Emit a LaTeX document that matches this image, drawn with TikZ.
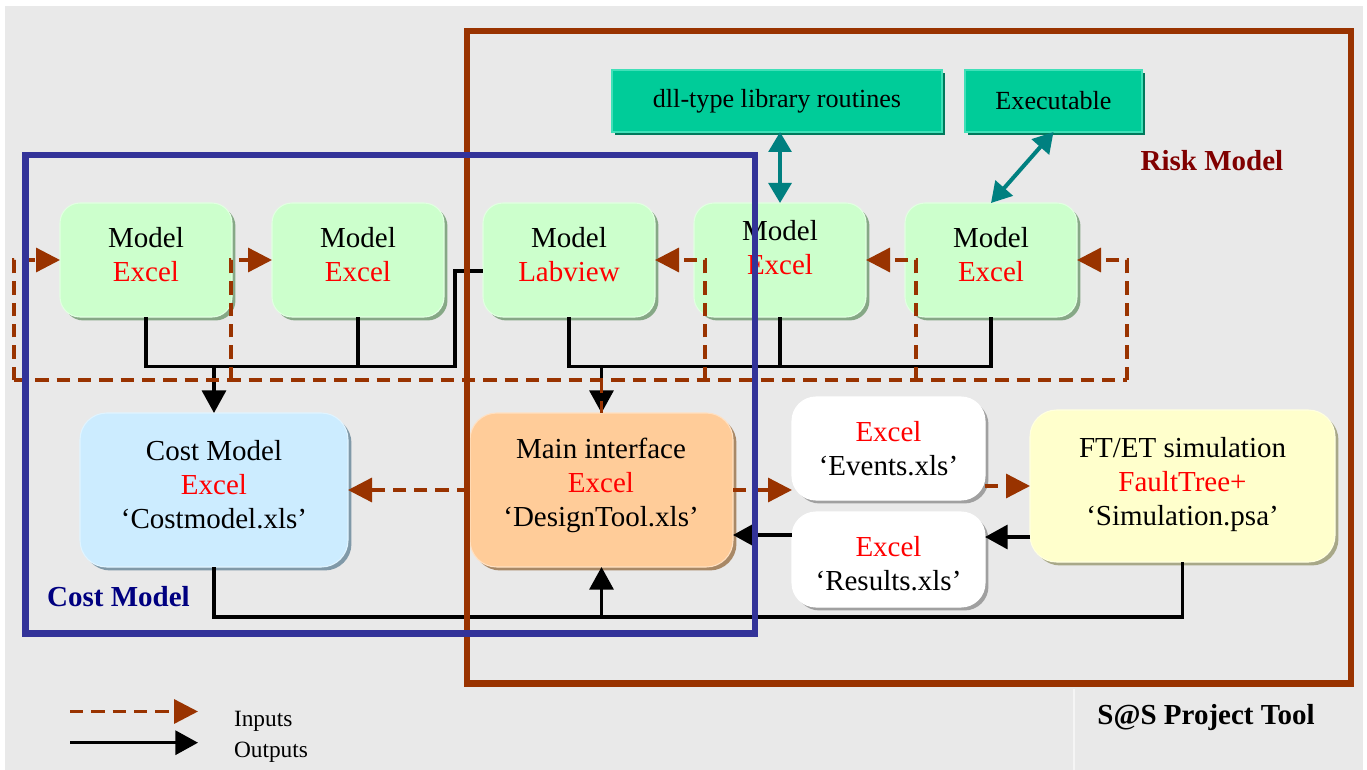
\documentclass[tikz,border=0pt]{standalone}
\usepackage{fontspec}
\setmainfont{Liberation Serif}
\usetikzlibrary{arrows.meta}
\definecolor{bgc}{HTML}{E9E9E9}
\definecolor{brn}{HTML}{993300}
\definecolor{navyframe}{HTML}{333399}
\definecolor{risklab}{HTML}{800000}
\definecolor{costlab}{HTML}{000080}
\definecolor{mgreen}{HTML}{CCFFCC}
\definecolor{mgreenedge}{HTML}{E2FFE2}
\definecolor{mgreensh}{HTML}{86A886}
\definecolor{tealbox}{HTML}{00CC99}
\definecolor{tealedge}{HTML}{40E0B8}
\definecolor{tealsh}{HTML}{007A5C}
\definecolor{tealarrow}{HTML}{008080}
\definecolor{cblue}{HTML}{CCECFF}
\definecolor{cbluesh}{HTML}{8099A8}
\definecolor{morange}{HTML}{FFCC99}
\definecolor{morangesh}{HTML}{A88866}
\definecolor{fyellow}{HTML}{FFFFCC}
\definecolor{fyellowsh}{HTML}{A8A888}
\definecolor{wboxsh}{HTML}{A0A0A0}
\begin{document}
\begin{tikzpicture}[x=0.75pt,y=-0.75pt,
  every node/.style={font=\fontsize{21.75}{25.5}\selectfont, align=center, inner sep=0pt, outer sep=0pt},
  shadowed/.style={preaction={fill=#1, transform canvas={shift={(2.6pt,-2.6pt)}}}},
  mbox/.style={rounded corners=15pt, fill=mgreen, draw=mgreenedge, line width=0.8pt, shadowed=mgreensh, minimum width=129pt, minimum height=85.5pt},
  tbox/.style={fill=tealbox, draw=tealedge, line width=0.8pt, shadowed=tealsh, minimum height=46.5pt, font=\fontsize{19.6}{23}\selectfont},
  bigbox/.style={rounded corners=20pt, line width=0.8pt, minimum width=#1},
  outl/.style={line width=2.5pt, draw=black},
  outa/.style={outl, -{Triangle[length=17pt,width=18pt]}},
  inl/.style={line width=2.5pt, draw=brn, dash pattern=on 10pt off 6pt},
  ina/.style={inl, -{Triangle[length=18pt,width=18pt]}},
  tarr/.style={draw=tealarrow, line width=3pt, {Triangle[length=15pt,width=17pt]}-{Triangle[length=15pt,width=17pt]}},
  frame/.style={draw=#1, line width=5.1pt},
  lab/.style={font=\fontsize{21.75}{25.5}\selectfont\bfseries}
]
\useasboundingbox (0,0) rectangle (1367,770);
\fill[white] (0,0) rectangle (1367,770);
\fill[bgc] (5,6) rectangle (1363,770);
\draw[white!55!bgc, line width=1.3pt] (1074,689) -- (1074,770);

% top library boxes
\node[tbox, minimum width=247.5pt] (dll) at (777,101) {dll-type library routines};
\node[tbox, minimum width=132.75pt] (exec) at (1053.5,101) {Executable};

% model boxes
\node[mbox] (m1) at (146,260) {};
\node[mbox] (m2) at (358,260) {};
\node[mbox] (m3) at (569,260) {};
\node[mbox] (m4) at (780,260) {};
\node[mbox] (m5) at (991,260) {};
\node (m1t) at (146,254.5) {Model\\\textcolor{red}{Excel}};
\node (m2t) at (358,254.5) {Model\\\textcolor{red}{Excel}};
\node (m3t) at (569,254.5) {Model\\\textcolor{red}{Labview}};
\node (m4t) at (780,247.5) {Model\\\textcolor{red}{Excel}};
\node (m5t) at (991,254.5) {Model\\\textcolor{red}{Excel}};

% lower boxes
\node[bigbox=201pt, fill=cblue, draw=cblue!60!white, shadowed=cbluesh, minimum height=115.5pt] (cost) at (214,490) {};
\node[bigbox=197.25pt, fill=morange, draw=morange!60!white, shadowed=morangesh, minimum height=115.5pt] (main) at (601.5,490) {};
\node[bigbox=144.75pt, rounded corners=18pt, fill=white, draw=white, shadowed=wboxsh, minimum height=77.25pt] (events) at (888.5,448.5) {};
\node[bigbox=144.75pt, rounded corners=18pt, fill=white, draw=white, shadowed=wboxsh, minimum height=71.25pt] (results) at (888.5,559.5) {};
\node[bigbox=228.75pt, fill=fyellow, draw=fyellow!60!white, shadowed=fyellowsh, minimum height=114pt] (ftet) at (1182.5,486) {};
\node (costt) at (214,484.5) {Cost Model\\\textcolor{red}{Excel}\\‘Costmodel.xls’};
\node (maint) at (601,485.5) {Main interface\\\textcolor{red}{Excel}\\‘DesignTool.xls’};
\node (eventst) at (888.5,449) {\textcolor{red}{Excel}\\‘Events.xls’};
\node (resultst) at (888.5,564) {\textcolor{red}{Excel}\\‘Results.xls’};
\node (ftett) at (1182.5,485) {FT/ET simulation\\\textcolor{red}{FaultTree+}\\‘Simulation.psa’};

% teal double arrows
\draw[tarr] (m4.north |- dll.south) -- (m4.north);
\draw[tarr] (exec.south) -- (m5.north);

% output connectors (black)
\coordinate (jL) at (455,366.7);
\coordinate (jLu) at (455,271);
\coordinate (jR) at (600,366.7);
\coordinate (jB) at (600,617);
\draw[outl] (m1.south) |- (jL) |- (m3.west |- jLu);
\draw[outl] (m2.south) -- (m2.south |- jL);
\draw[outa] (cost.north |- jL) -- (cost.north);
\draw[outl] (m3.south) |- (m5.south |- jR) -- (m5.south);
\draw[outl] (m4.south) -- (m4.south |- jR);
\draw[outa] (main.north |- jR) -- (main.north);
\draw[outl] (cost.south) |- (ftet.south |- jB) -- (ftet.south);
\draw[outa] (main.south |- jB) -- (main.south);
\draw[outa] (results.west |- 0,535) -- (main.east |- 0,535);
\draw[outa] (ftet.west |- 0,537) -- (results.east |- 0,537);

% input connectors (dashed)
\coordinate (d1) at (14,380);
\coordinate (d2) at (231,380);
\coordinate (d3) at (705,380);
\coordinate (d4) at (916,380);
\coordinate (d5) at (1127,380);
\draw[inl] (d1) -- (d5);
\draw[ina] (d1) |- (m1.west);
\draw[ina] (d2) |- (m2.west);
\draw[ina] (d3) |- (m3.east);
\draw[ina] (d4) |- (m4.east);
\draw[ina] (d5) |- (m5.east);
\draw[inl] (main.north |- d1) -- (main.north);
\draw[ina] (main.west) -- (cost.east);
\draw[ina] (main.east) -- (events.west |- main.east);
\draw[ina] (events.east |- ftet.west) -- (ftet.west);

% frames
\node[frame=brn, minimum width=663pt, minimum height=489.4pt] (riskframe) at (909,357.25) {};
\node[frame=navyframe, minimum width=547.1pt, minimum height=358.9pt] (costframe) at (390.25,394.25) {};

% labels
\node[lab, text=risklab] (risklabel) at (1212,161) {Risk Model};
\node[lab, text=costlab] (costlabel) at (118.5,597) {Cost Model};
\node[lab] (tool) at (1206,718) {S@S Project Tool};

% legend
\coordinate (lga) at (70,711.5);
\coordinate (lgb) at (198,711.5);
\coordinate (lgc) at (70,742.7);
\coordinate (lgd) at (198,742.7);
\draw[ina] (lga) -- (lgb);
\draw[outa] (lgc) -- (lgd);
\node[anchor=west, font=\fontsize{17.5}{20}\selectfont] (inputs) at (234,721.5) {Inputs};
\node[anchor=west, font=\fontsize{17.5}{20}\selectfont] (outputs) at (234,752.5) {Outputs};
\end{tikzpicture}
\end{document}
